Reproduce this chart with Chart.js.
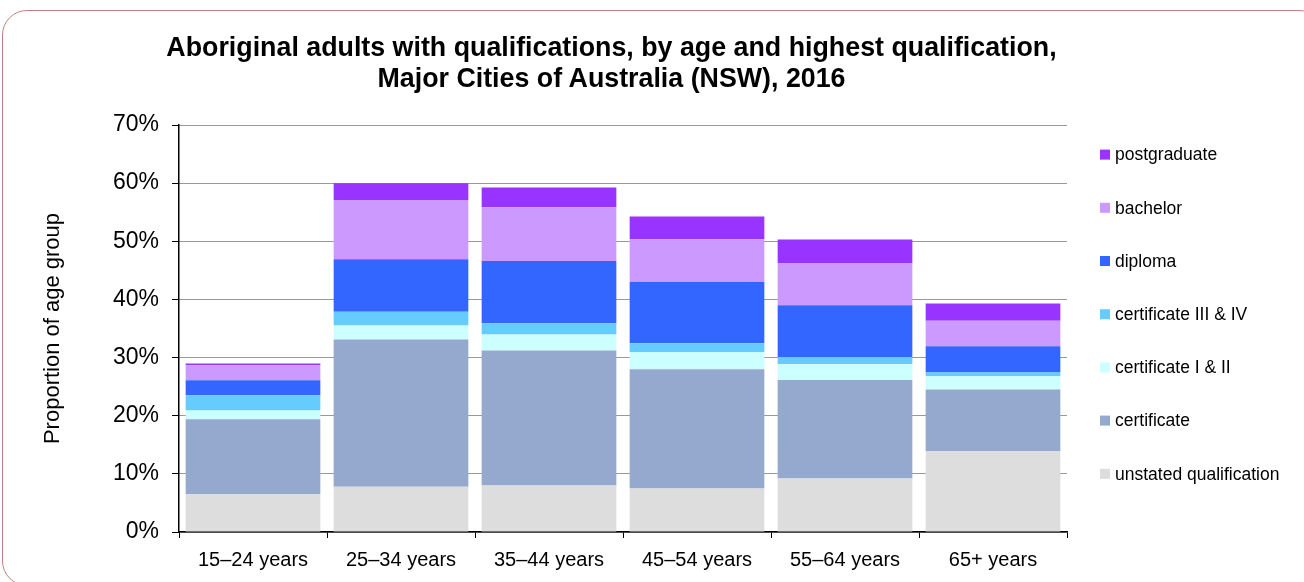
<!DOCTYPE html>
<html>
<head>
<meta charset="utf-8">
<script src="https://cdn.jsdelivr.net/npm/chart.js"></script>
<style>
    html, body { margin: 0; padding: 0; background: #fff; }
    #wrap { position: relative; width: 1304px; height: 582px; overflow: hidden; font-family: "Liberation Sans", Arial, sans-serif; }
    #frame { position: absolute; left: 2px; top: 10px; width: 1320px; height: 574px; border: 1px solid #c27f7f; border-radius: 25px; pointer-events: none; }
    #title { position: absolute; left: 0; top: 32px; width: 1223px; text-align: center; font-weight: bold; font-size: 26.8px; line-height: 31px; color: #000; }
    #chart { position: absolute; left: 0; top: 0; }
</style>
</head>
<body>
<div id="wrap">
    <canvas id="chart" width="1304" height="582"></canvas>
    <div id="title">Aboriginal adults with qualifications, by age and highest qualification,<br>Major Cities of Australia (NSW), 2016</div>
    <div id="frame"></div>
</div>
<script>
// ===================================================================================
//          QUALIFICATIONS BY AGE - STACKED COLUMNS
// ===================================================================================

const ageGroups = ['15–24 years', '25–34 years', '35–44 years', '45–54 years', '55–64 years', '65+ years'];

// share of each age group (%), stacked from the bottom up
const unstated      = [6.5, 7.8, 8.0, 7.5, 9.2, 13.9];
const certificate   = [12.9, 25.3, 23.2, 20.5, 16.95, 10.6];
const certOneTwo    = [1.5, 2.4, 2.75, 2.9, 2.7, 2.3];
const certThreeFour = [2.6, 2.4, 1.95, 1.55, 1.25, 0.65];
const diploma       = [2.6, 9.0, 10.7, 10.55, 8.9, 4.5];
const bachelor      = [2.6, 10.2, 9.25, 7.35, 7.25, 4.4];
const postgraduate  = [0.3, 2.9, 3.4, 3.9, 4.05, 2.95];

const yMax = 70;
const yStep = 10;

const FONT = '"Liberation Sans", Arial, sans-serif';
Chart.defaults.font.family = FONT;
Chart.defaults.color = '#000';

function series(label, data, color) {
    return {
        label: label,
        data: data,
        backgroundColor: color,
        borderWidth: 0,
        barPercentage: 0.91,
        categoryPercentage: 1.0
    };
}

// legend on the right, top item = last dataset
const sideLegend = {
    id: 'sideLegend',
    afterDraw(chart) {
        const { ctx, chartArea } = chart;
        const sets = chart.data.datasets.slice().reverse();
        ctx.save();
        ctx.font = '17.5px ' + FONT;
        ctx.textBaseline = 'middle';
        ctx.textAlign = 'left';
        sets.forEach((ds, i) => {
            const y = chartArea.top + 29.6 + i * 53.2;
            ctx.fillStyle = ds.backgroundColor;
            ctx.fillRect(chartArea.right + 33, y - 5, 10, 10);
            ctx.fillStyle = '#000';
            ctx.fillText(ds.label, chartArea.right + 48, y + 1);
        });
        ctx.restore();
    }
};

const ctx = document.getElementById('chart').getContext('2d');
new Chart(ctx, {
    type: 'bar',
    data: {
        labels: ageGroups,
        datasets: [
            series('unstated qualification', unstated, '#dddddd'),
            series('certificate', certificate, '#95a9cf'),
            series('certificate I & II', certOneTwo, '#ccffff'),
            series('certificate III & IV', certThreeFour, '#66ccff'),
            series('diploma', diploma, '#3366ff'),
            series('bachelor', bachelor, '#cc99ff'),
            series('postgraduate', postgraduate, '#9933ff')
        ]
    },
    options: {
        responsive: false,
        animation: false,
        layout: { padding: { top: 125, right: 237, bottom: 0, left: 0 } },
        plugins: {
            legend: { display: false },
            title: { display: false },
            tooltip: { enabled: false }
        },
        scales: {
            x: {
                stacked: true,
                grid: { display: true, offset: true, drawOnChartArea: false, drawTicks: true, tickLength: 6, tickColor: '#000' },
                border: { display: true, color: '#000', width: 1.5 },
                ticks: { color: '#000', font: { size: 20 }, padding: 10, maxRotation: 0 },
                afterFit: s => { s.height = 50; }
            },
            y: {
                stacked: true,
                min: 0,
                max: yMax,
                ticks: {
                    stepSize: yStep,
                    callback: v => v + '%',
                    color: '#000',
                    font: { size: 23 },
                    padding: 13
                },
                grid: { color: '#333', lineWidth: 1, tickLength: 7, tickColor: '#000', tickBorderDash: [] },
                border: { display: true, color: '#000', width: 1.5, dash: [1, 1] },
                title: {
                    display: true,
                    text: 'Proportion of age group',
                    color: '#000',
                    font: { size: 22 },
                    padding: { top: 40, bottom: 0 }
                },
                afterFit: s => { s.width = 179; }
            }
        }
    },
    plugins: [sideLegend]
});
</script>
</body>
</html>
